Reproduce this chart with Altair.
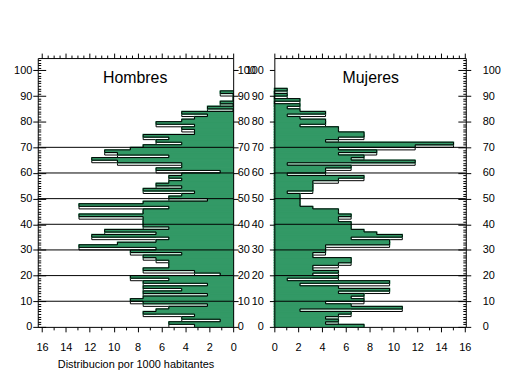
import altair as alt
import pandas as pd

# ---- data (per 1000 inhabitants, one bar per year of age) ----
edades_hombres = list(range(92))
hombres = [
    3.23, 5.38, 1.08, 4.3, 3.23, 7.53, 6.45, 5.38, 2.15, 7.53,
    8.6, 7.53, 2.15, 7.53, 4.3, 7.53, 2.15, 7.53, 5.38, 8.6,
    1.08, 3.23, 7.53, 5.38, 5.38, 5.38, 6.45, 7.53, 4.3, 8.6,
    6.45, 12.9, 9.68, 6.45, 5.38, 11.83, 6.45, 10.75, 5.38, 7.53,
    7.53, 7.53, 7.53, 12.9, 7.53, 7.53, 5.38, 12.9, 7.53, 2.15,
    5.38, 4.3, 3.23, 7.53, 4.3, 6.45, 5.38, 4.3, 5.38, 4.3,
    1.08, 6.45, 4.3, 4.3, 9.68, 11.83, 5.38, 9.68, 10.75, 8.6,
    7.53, 4.3, 6.45, 5.38, 7.53, 3.23, 3.23, 4.3, 3.23, 6.45,
    4.3, 3.23, 2.15, 4.3, 0.0, 2.15, 0.0, 1.08, 0.0, 0.0, 0.0, 1.08,
]
edades_mujeres = list(range(93))
mujeres = [
    7.53, 4.3, 5.38, 4.3, 5.38, 6.45, 2.15, 10.75, 6.45, 4.3,
    7.53, 6.45, 7.53, 5.38, 9.68, 5.38, 2.15, 9.68, 1.08, 5.38,
    3.23, 5.38, 3.23, 3.23, 5.38, 6.45, 6.45, 3.23, 3.23, 4.3,
    4.3, 4.3, 9.68, 9.68, 6.45, 10.75, 8.6, 7.53, 6.45, 6.45,
    6.45, 5.38, 5.38, 6.45, 5.38, 5.38, 3.23, 2.15, 2.15, 2.15,
    2.15, 2.15, 1.08, 3.23, 3.23, 3.23, 3.23, 5.38, 7.53, 1.08,
    4.3, 4.3, 6.45, 1.08, 11.83, 6.45, 7.53, 5.38, 8.6, 5.38,
    11.83, 15.05, 4.3, 5.38, 7.53, 7.53, 5.38, 5.38, 2.15, 4.3,
    4.3, 2.15, 1.08, 4.3, 2.15, 1.08, 2.15, 0.0, 2.15, 0.0, 1.08, 0.0, 1.08,
]

etiquetas_edad = list(range(0, 101, 10))
lineas_edad = [10, 20, 30, 40, 50, 60, 70]
marcas_x = [i / 2 for i in range(33)]
marcas_edad = list(range(0, 105))

FUENTE = "Liberation Sans"
VERDE = "#339966"
ALTO = 271
EDAD_MAX = 104.8

tick_x = {"condition": {"test": "datum.value % 2 == 0", "value": 5}, "value": 3}
tick_y_in = {"condition": {"test": "datum.value % 10 == 0", "value": 8}, "value": 3}


def tablas(edades, valores):
    n = len(valores)
    filas = pd.DataFrame({"edad": edades, "fin": [e + 1 for e in edades], "valor": valores})
    contorno = pd.DataFrame({"edad": edades + [n], "valor": valores + [0.0]})
    sombra = pd.DataFrame({"edad": edades[:-1] + [n - 1], "valor": valores[1:] + [0.0]})
    return filas, contorno, sombra


def panel(edades, valores, titulo, ancho, xmax, invertido, exterior, titulo_x,
          pad_izq, pad_der, x_texto):
    filas, contorno, sombra = tablas(edades, valores)
    xs = alt.Scale(domain=[0, xmax], reverse=invertido, nice=False, zero=False)
    ys = alt.Scale(domain=[0, EDAD_MAX], nice=False, zero=False)

    eje_abajo_kw = dict(orient="bottom", values=marcas_x, format="d",
                        labelExpr="datum.value % 2 == 0 ? datum.label : ''",
                        tickSize=tick_x, labelPadding=10, labelFlush=False,
                        labelOverlap=False, grid=False, zindex=1)
    if titulo_x:
        eje_abajo = alt.Axis(title=titulo_x, titlePadding=6, **eje_abajo_kw)
    else:
        eje_abajo = alt.Axis(title=None, **eje_abajo_kw)

    eje_izq = alt.Axis(orient="left", values=etiquetas_edad, format="d", tickSize=5,
                       labelPadding=pad_izq, labelFlush=False, labelOverlap=False,
                       grid=False, title=None, zindex=1)
    eje_der = alt.Axis(orient="right", values=etiquetas_edad, format="d", tickSize=5,
                       labelPadding=pad_der, labelFlush=False, labelOverlap=False,
                       grid=False, title=None, zindex=1)
    eje_arriba = alt.Axis(orient="top", values=marcas_x, tickSize=tick_x, labels=False,
                          grid=False, title=None, zindex=1)
    eje_dentro = alt.Axis(orient="right" if exterior == "left" else "left",
                          offset=-ancho, values=marcas_edad, tickSize=tick_y_in,
                          labels=False, domain=False, grid=False, title=None, zindex=1)

    # outline of the offset (shadow) profile, mostly hidden under the green bars
    capa_sombra = alt.Chart(sombra).mark_line(
        interpolate="step-before", color="black", strokeWidth=1
    ).encode(
        y=alt.Y("edad:Q", scale=ys, axis=eje_izq),
        x=alt.X("valor:Q", scale=xs, axis=eje_abajo),
        order=alt.Order("edad:Q"),
    )
    capa_verde = alt.Chart(filas).mark_rect(
        fill=VERDE, stroke=VERDE, strokeWidth=1.4
    ).encode(
        y=alt.Y("edad:Q", scale=ys, axis=None),
        y2="fin:Q",
        x=alt.X("valor:Q", scale=xs, axis=None),
        x2=alt.datum(0),
    )
    capa_contorno = alt.Chart(contorno).mark_line(
        interpolate="step-before", color="black", strokeWidth=1
    ).encode(
        y=alt.Y("edad:Q", scale=ys, axis=None),
        x=alt.X("valor:Q", scale=xs, axis=None),
        order=alt.Order("edad:Q"),
    )
    capa_lineas = alt.Chart(pd.DataFrame({"edad": lineas_edad})).mark_rule(
        color="black", strokeWidth=1
    ).encode(y=alt.Y("edad:Q", scale=ys, axis=None))
    capa_titulo = alt.Chart(pd.DataFrame({"t": [titulo]})).mark_text(
        font=FUENTE, fontSize=16, baseline="alphabetic", color="black"
    ).encode(
        x=alt.XDatum(x_texto, type="quantitative", scale=xs, axis=None),
        y=alt.YDatum(95, type="quantitative", scale=ys, axis=None),
        text="t:N",
    )
    capa_ejes = alt.Chart(contorno).mark_point(opacity=0).encode(
        x=alt.X("valor:Q", scale=xs, axis=eje_arriba),
        y=alt.Y("edad:Q", scale=ys, axis=eje_der),
    )
    capa_dentro = alt.Chart(contorno).mark_point(opacity=0).encode(
        x=alt.X("valor:Q", scale=xs, axis=None),
        y=alt.Y("edad:Q", scale=ys, axis=eje_dentro),
    )
    return alt.layer(
        capa_sombra, capa_verde, capa_contorno, capa_lineas, capa_titulo,
        capa_ejes, capa_dentro
    ).resolve_scale(x="independent", y="independent").properties(width=ancho, height=ALTO)


izquierda = panel(edades_hombres, hombres, "Hombres", 197, 16.35, True, "left",
                  "Distribucion por 1000 habitantes", 1, -1, 8.2)
derecha = panel(edades_mujeres, mujeres, "Mujeres", 193, 16.08, False, "right",
                None, 6, 11.5, 8.1)

chart = alt.hconcat(izquierda, derecha, spacing=41.5, bounds="flush").properties(
    padding={"left": 5, "top": 43, "right": 0, "bottom": 0}
).configure_axis(
    labelFont=FUENTE, labelFontSize=11, labelColor="black",
    titleFont=FUENTE, titleFontSize=11, titleFontWeight="normal", titleColor="black",
    domainColor="black", tickColor="black", domainWidth=1, tickWidth=1,
).configure_view(stroke=None)

chart.save("out.html", embed_options={"renderer": "svg", "actions": False})
